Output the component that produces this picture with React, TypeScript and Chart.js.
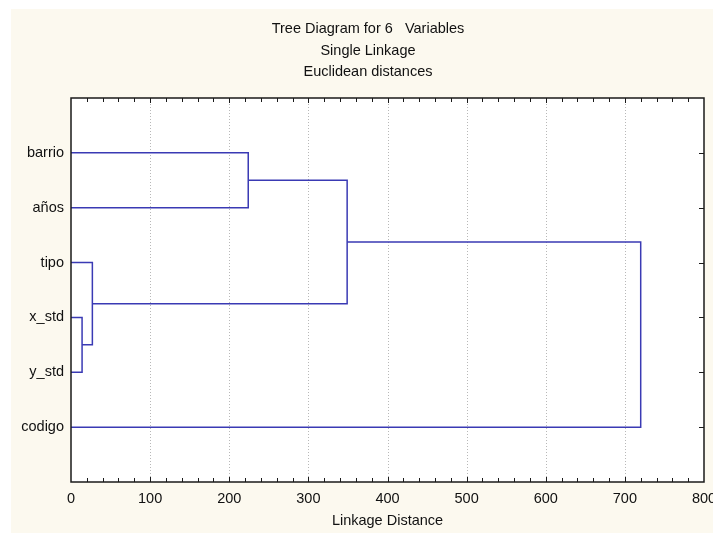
import React, { useEffect, useRef } from "react";
import { Chart, registerables } from "chart.js";

Chart.register(...registerables);

// ---- data ----
const titleLines = ["Tree Diagram for 6   Variables", "Single Linkage", "Euclidean distances"];
const variables = ["barrio", "años", "tipo", "x_std", "y_std", "codigo"];
// linkage steps: cluster A joins cluster B at distance; leaves are 0..5, new clusters are 6, 7, ...
const mergeA = [3, 2, 0, 8, 9];
const mergeB = [4, 6, 1, 7, 5];
const mergeDist = [14, 27, 224, 349, 720];
const xMin = 0;
const xMax = 800;
const xStep = 100;
const xMinorStep = 20;
const xAxisTitle = "Linkage Distance";

const FONT = "'Liberation Sans', Arial, sans-serif";
const LINE_COLOR = "#3a3ab4";
const CREAM = "#fcf9ef";

function buildDatasets() {
  const posX: number[] = variables.map(() => 0);
  const posY: number[] = variables.map((_, i) => i + 1);
  const sets: any[] = [];
  for (let i = 0; i < mergeDist.length; i++) {
    const a = mergeA[i];
    const b = mergeB[i];
    const d = mergeDist[i];
    sets.push({
      data: [
        { x: posX[a], y: posY[a] },
        { x: d, y: posY[a] },
        { x: d, y: posY[b] },
        { x: posX[b], y: posY[b] },
      ],
      showLine: true,
      borderColor: LINE_COLOR,
      borderWidth: 1.5,
      pointRadius: 0,
      tension: 0,
      fill: false,
    });
    posX.push(d);
    posY.push((posY[a] + posY[b]) / 2);
  }
  return sets;
}

const backgroundPlugin = {
  id: "bgPlugin",
  beforeDraw(chart: any) {
    const { ctx, width, height, chartArea } = chart;
    ctx.save();
    ctx.fillStyle = "#ffffff";
    ctx.fillRect(0, 0, width, height);
    ctx.fillStyle = CREAM;
    ctx.fillRect(11, 9, width - 11, height - 9);
    ctx.fillStyle = "#ffffff";
    ctx.fillRect(chartArea.left, chartArea.top, chartArea.right - chartArea.left, chartArea.bottom - chartArea.top);
    // title
    ctx.fillStyle = "#111";
    ctx.font = "14.5px " + FONT;
    ctx.textAlign = "center";
    ctx.textBaseline = "middle";
    const cx = 368;
    titleLines.forEach((t, i) => ctx.fillText(t, cx, 29 + i * 21.5));
    ctx.restore();
  },
  beforeDatasetsDraw(chart: any) {
    const { ctx, chartArea, scales } = chart;
    const xs = scales.x;
    ctx.save();
    ctx.strokeStyle = "#b8b8b8";
    ctx.lineWidth = 1;
    ctx.setLineDash([1, 2]);
    for (let v = xMin + xStep; v < xMax; v += xStep) {
      const px = Math.round(xs.getPixelForValue(v)) + 0.5;
      ctx.beginPath();
      ctx.moveTo(px, chartArea.top);
      ctx.lineTo(px, chartArea.bottom);
      ctx.stroke();
    }
    ctx.restore();
  },
  afterDatasetsDraw(chart: any) {
    const { ctx, chartArea, scales } = chart;
    const xs = scales.x;
    const ys = scales.y;
    ctx.save();
    ctx.strokeStyle = "#1a1a1a";
    ctx.lineWidth = 1.5;
    ctx.strokeRect(chartArea.left, chartArea.top, chartArea.right - chartArea.left, chartArea.bottom - chartArea.top);
    ctx.lineWidth = 1;
    ctx.beginPath();
    for (let v = xMin + xMinorStep; v < xMax; v += xMinorStep) {
      const px = Math.round(xs.getPixelForValue(v)) + 0.5;
      const len = v % xStep === 0 ? 5 : 4;
      ctx.moveTo(px, chartArea.top);
      ctx.lineTo(px, chartArea.top + len);
      ctx.moveTo(px, chartArea.bottom);
      ctx.lineTo(px, chartArea.bottom - len);
    }
    for (let i = 1; i <= variables.length; i++) {
      const py = Math.round(ys.getPixelForValue(i)) + 0.5;
      ctx.moveTo(chartArea.right, py);
      ctx.lineTo(chartArea.right - 5, py);
    }
    ctx.stroke();
    ctx.restore();
  },
};

export default function App() {
  const ref = useRef<HTMLCanvasElement | null>(null);
  useEffect(() => {
    if (!ref.current) return;
    const chart = new Chart(ref.current, {
      type: "scatter",
      data: { datasets: buildDatasets() },
      options: {
        animation: false,
        responsive: false,
        layout: { padding: { top: 98, right: 9, left: 0, bottom: 0 } },
        plugins: {
          legend: { display: false },
          title: { display: false },
          tooltip: { enabled: false },
        },
        scales: {
          x: {
            type: "linear",
            position: "bottom",
            min: xMin,
            max: xMax,
            grid: { display: false, drawTicks: false },
            border: { display: false },
            ticks: {
              stepSize: xStep,
              color: "#111",
              font: { family: FONT, size: 14.5 },
              padding: 8,
              maxRotation: 0,
            },
            title: {
              display: true,
              text: xAxisTitle,
              color: "#111",
              font: { family: FONT, size: 14.5 },
              padding: { top: 0, bottom: 3 },
            },
            afterFit(scale: any) {
              scale.height = 51;
              scale.paddingLeft = 0;
              scale.paddingRight = 0;
            },
          },
          y: {
            type: "linear",
            position: "left",
            min: 0,
            max: variables.length + 1,
            reverse: true,
            grid: { display: false, drawTicks: false },
            border: { display: false },
            ticks: {
              stepSize: 1,
              autoSkip: false,
              color: "#111",
              font: { family: FONT, size: 14.5 },
              padding: 7,
              callback: (v: any) => variables[Number(v) - 1] ?? "",
            },
            afterFit(scale: any) {
              scale.width = 71;
              scale.paddingTop = 0;
              scale.paddingBottom = 0;
            },
          },
        },
      },
      plugins: [backgroundPlugin],
    } as any);
    return () => chart.destroy();
  }, []);
  return (
    <div style={{ position: "fixed", left: 0, top: 0, width: 713, height: 533 }}>
      <canvas ref={ref} width={713} height={533} />
    </div>
  );
}
